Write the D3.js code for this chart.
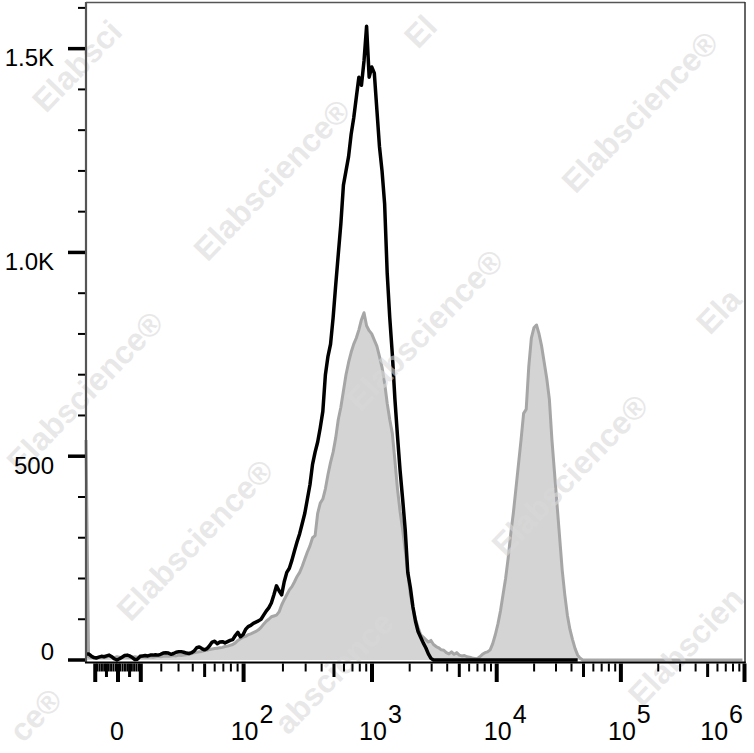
<!DOCTYPE html>
<html>
<head>
<meta charset="utf-8">
<script src="https://cdn.jsdelivr.net/npm/d3@7"></script>
<style>
  html, body { margin: 0; padding: 0; background: #fff; }
  svg { display: block; }
</style>
</head>
<body>
<svg id="chart" width="754" height="753"></svg>
<script>
// ---------------- data (display channels, 256 bins over the logicle axis) ----------------
const NBINS = 256;

const blackCounts = [
  14,15,10,6,5,7,9,8,10,12,
  8,3,0,3,7,11,12,10,6,1,
  2,9,10,11,10,12,12,13,12,14,
  17,18,17,14,16,19,20,20,19,17,
  16,18,22,30,32,28,25,28,35,44,
  46,40,44,45,42,45,48,50,60,68,
  57,62,75,82,85,90,93,96,100,110,
  120,128,140,160,182,170,160,192,215,225,
  245,268,290,310,335,360,395,430,480,510,
  535,570,610,700,745,775,840,920,995,1070,
  1165,1200,1235,1290,1330,1380,1430,1410,1470,1555,
  1430,1455,1440,1350,1260,1200,1120,950,840,750,
  640,550,466,395,320,215,178,130,95,70,
  56,42,30,15,4,0,0,0,0,0,
  0,0,0,0,0,0,0,0,0,0,
  0,0,0,0,0,0,0,0,0,0,
  0,0,0,0,0,0,0,0,0,0,
  0,0,0,0,0,0,0,0,0,0,
  0,0,0,0,0,0,0,0,0,0,
  0,0
];

const grayCounts = [
  540,8,6,7,5,7,8,6,7,9,
  7,6,8,7,6,8,7,6,7,8,
  7,6,8,7,7,8,7,8,9,8,
  9,10,9,10,11,10,12,11,12,13,
  14,16,18,19,20,21,23,24,26,27,
  28,29,30,31,33,34,36,38,42,48,
  52,56,58,62,64,67,70,74,80,88,
  95,100,106,108,110,118,135,148,160,172,
  180,192,205,215,230,248,265,280,300,305,
  360,385,395,420,455,485,510,545,590,620,
  660,700,730,755,775,790,810,835,852,820,
  808,800,785,770,745,718,680,630,590,556,
  490,420,365,320,270,215,160,128,100,80,
  62,56,50,44,48,38,33,30,25,24,
  18,15,20,14,18,12,10,11,8,7,
  5,4,3,8,14,18,20,25,40,62,
  88,120,160,200,250,310,360,420,480,540,
  605,615,720,790,815,822,800,770,730,690,
  640,540,460,380,300,220,160,110,75,50,
  28,12,4,0,0,0,0,0,0,0,
  0,0,0,0,0,0,0,0,0,0,
  0,0,0,0,0,0,0,0,0,0,
  0,0,0,0,0,0,0,0,0,0,
  0,0,0,0,0,0,0,0,0,0,
  0,0,0,0,0,0,0,0,0,0,
  0,0,0,0,0,0
];

// axis content
const yMax = 1612;
const yMajorTicks = [0, 500, 1000, 1500];
const yMajorLabels = ["0", "500", "1.0K", "1.5K"];
const yMinorStep = 100;
const xDecadeExponents = [2, 3, 4, 5, 6];
const xZeroLabel = "0";
// logicle parameters of the display axis
const logicleT = 1e6, logicleW = 0.258, logicleM = 5.31, logicleA = 0;

// watermark layout (decoration): visible text, anchor point, anchor type
const watermarks = [
  { t: "Elabsci",          x: 46,  y: 114, a: "start" },
  { t: "Elabscience\u00AE", x: 272, y: 180, a: "middle" },
  { t: "El",               x: 418, y: 50,  a: "start" },
  { t: "Elabscience\u00AE", x: 640, y: 112, a: "middle" },
  { t: "Ela",              x: 710, y: 336, a: "start" },
  { t: "Elabscience\u00AE", x: 85,  y: 392, a: "middle" },
  { t: "Elabscience\u00AE", x: 425, y: 330, a: "middle" },
  { t: "Elabscience\u00AE", x: 195, y: 540, a: "middle" },
  { t: "Elabscience\u00AE", x: 570, y: 475, a: "middle" },
  { t: "Elabscien",        x: 642, y: 708, a: "start" },
  { t: "ce\u00AE",          x: 23,  y: 744, a: "start" },
  { t: "abscience",        x: 288, y: 736, a: "start" }
];

// ---------------- logicle transform ----------------
function makeLogicle(T, W, M, A) {
  const w = W / (M + A), x2 = A / (M + A), x1 = x2 + w, x0 = x2 + 2 * w;
  const b = (M + A) * Math.LN10;
  let lo = 1e-9, hi = b;
  for (let k = 0; k < 200; k++) {
    const mid = (lo + hi) / 2;
    const g = 2 * (Math.log(mid) - Math.log(b)) + w * (b + mid);
    if (g > 0) hi = mid; else lo = mid;
  }
  const d = (lo + hi) / 2;
  const ca = Math.exp(x0 * (b + d));
  const mfa = Math.exp(b * x1) - ca / Math.exp(d * x1);
  const a = T / ((Math.exp(b) - mfa) - ca / Math.exp(d));
  const c = ca * a, f = -mfa * a;
  function S(y) {
    if (y >= x1) return a * Math.exp(b * y) - c * Math.exp(-d * y) + f;
    return -S(2 * x1 - y);
  }
  return function (v) {
    let l = -1, h = 1.5;
    for (let k = 0; k < 100; k++) {
      const m = (l + h) / 2;
      if (S(m) < v) l = m; else h = m;
    }
    return (l + h) / 2;
  };
}
const logicle = makeLogicle(logicleT, logicleW, logicleM, logicleA);

// ---------------- layout ----------------
const plotLeft = 86, plotRight = 745, plotTop = 3, plotBottom = 660;
const svg = d3.select("#chart");
const FONT = "'Liberation Sans', Arial, Helvetica, sans-serif";

const x = d3.scaleLinear().domain([0, NBINS]).range([plotLeft, plotRight]);
const y = d3.scaleLinear().domain([0, yMax]).range([plotBottom, plotTop]);
const xv = v => x(logicle(v) * NBINS);

// ---------------- histograms ----------------
const grayArea = d3.area()
  .x((d, i) => x(i))
  .y0(y(0))
  .y1(d => y(d));
const lineGen = d3.line()
  .x((d, i) => x(i))
  .y(d => y(d));

const plot = svg.append("g");
plot.append("path")
  .datum(grayCounts)
  .attr("d", grayArea)
  .attr("fill", "#d4d4d4");
plot.append("path")
  .datum(grayCounts)
  .attr("d", lineGen)
  .attr("fill", "none")
  .attr("stroke", "#a6a6a6")
  .attr("stroke-width", 3)
  .attr("stroke-linejoin", "round");
plot.append("path")
  .datum(blackCounts)
  .attr("d", lineGen)
  .attr("fill", "none")
  .attr("stroke", "#000")
  .attr("stroke-width", 3.5)
  .attr("stroke-linejoin", "round");

// ---------------- watermark ----------------
const wm = svg.append("g").attr("pointer-events", "none");
watermarks.forEach(w => {
  wm.append("text")
    .attr("transform", `translate(${w.x},${w.y}) rotate(-46)`)
    .attr("text-anchor", w.a)
    .attr("dominant-baseline", w.a === "middle" ? "central" : "alphabetic")
    .attr("font-family", FONT)
    .attr("font-weight", "bold")
    .attr("font-size", 32)
    .attr("fill", "#d9d9d9")
    .attr("fill-opacity", 0.6)
    .text(w.t);
});

// ---------------- frame ----------------
const frame = svg.append("g");
frame.append("line").attr("x1", plotLeft).attr("x2", plotRight).attr("y1", 2.5).attr("y2", 2.5)
  .attr("stroke", "#555").attr("stroke-width", 1.5);
frame.append("line").attr("x1", plotRight).attr("x2", plotRight).attr("y1", 2).attr("y2", 663)
  .attr("stroke", "#333").attr("stroke-width", 1.5);
frame.append("line").attr("x1", plotLeft).attr("x2", plotLeft).attr("y1", 2).attr("y2", 663)
  .attr("stroke", "#555").attr("stroke-width", 2.2);
frame.append("line").attr("x1", plotLeft - 1).attr("x2", plotRight + 0.7).attr("y1", 662.5).attr("y2", 662.5)
  .attr("stroke", "#000").attr("stroke-width", 2);

// ---------------- y axis ----------------
const yAxisG = svg.append("g");
d3.range(0, yMax, yMinorStep).forEach(v => {
  const major = yMajorTicks.includes(v);
  yAxisG.append("line")
    .attr("x1", major ? 68 : 78).attr("x2", plotLeft - 1)
    .attr("y1", y(v)).attr("y2", y(v))
    .attr("stroke", "#000").attr("stroke-width", major ? 3.5 : 2);
});
yMajorTicks.forEach((v, i) => {
  yAxisG.append("text")
    .attr("x", 54)
    .attr("y", v === 0 ? y(v) : y(v) + 17.5)
    .attr("text-anchor", "end")
    .attr("font-family", FONT)
    .attr("font-size", 24)
    .attr("fill", "#000")
    .text(yMajorLabels[i]);
});

// ---------------- x axis ----------------
const xAxisG = svg.append("g");
const xTicks = [];
xTicks.push({ v: 0, type: "major" });
for (let m = 1; m <= 10; m++) {
  const type = m === 10 ? "major" : (m === 5 ? "medium" : "minor");
  xTicks.push({ v: -m, type });
}
for (let k = 0; k <= 5; k++) {
  for (let m = 1; m <= 9; m++) {
    const v = m * Math.pow(10, k);
    let type = "minor";
    if (m === 1 && k >= 1) type = "major";
    else if (m === 5) type = "medium";
    xTicks.push({ v, type });
  }
}
xTicks.push({ v: 1e6, type: "major" });
const tickLen = { major: 682, medium: 677, minor: 671.5 };
const tickW = { major: 4, medium: 3, minor: 2 };
xTicks.forEach(t => {
  const px = xv(t.v);
  if (px < plotLeft + 3 || px > plotRight + 1) return;
  xAxisG.append("line")
    .attr("x1", Math.min(px, plotRight - 0.5)).attr("x2", Math.min(px, plotRight - 0.5))
    .attr("y1", 663.5).attr("y2", tickLen[t.type])
    .attr("stroke", "#000").attr("stroke-width", tickW[t.type]);
});

const LF = 25;
xAxisG.append("text")
  .attr("x", xv(0) - 1).attr("y", 740)
  .attr("text-anchor", "middle")
  .attr("font-family", FONT).attr("font-size", LF).attr("fill", "#000")
  .text(xZeroLabel);
xDecadeExponents.forEach(e => {
  const px = xv(Math.pow(10, e));
  const baseW = 2 * 0.556 * LF, expW = 0.556 * LF;
  const startX = Math.min(px - baseW / 2 + 1, 742 - baseW - expW);
  const t = xAxisG.append("text")
    .attr("x", startX).attr("y", 740)
    .attr("font-family", FONT).attr("font-size", LF).attr("fill", "#000");
  t.append("tspan").text("10");
  t.append("tspan").attr("dy", -17).attr("dx", 1).text(String(e));
});
</script>
</body>
</html>
